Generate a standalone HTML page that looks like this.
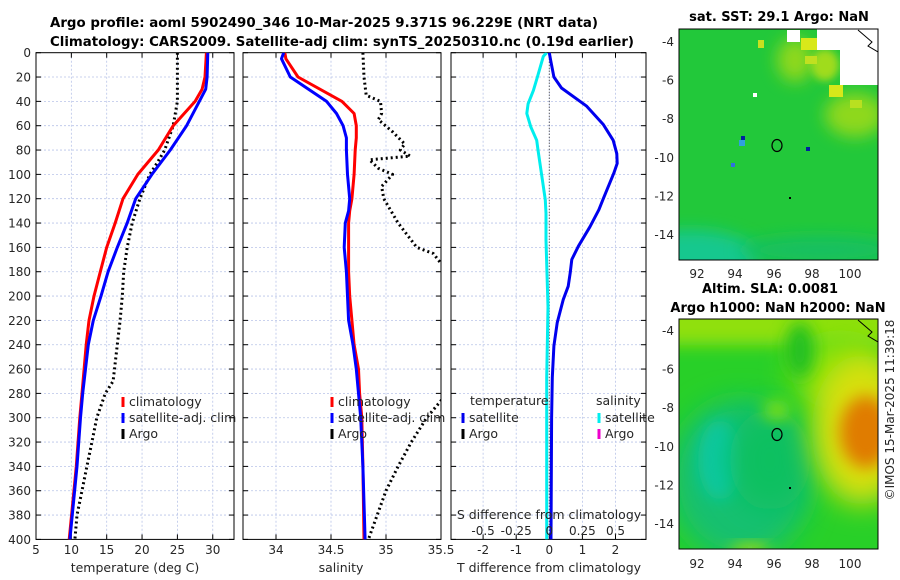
<!DOCTYPE html>
<html><head><meta charset="utf-8">
<style>
html,body{margin:0;padding:0;background:#fff;}
svg{display:block;font-family:"DejaVu Sans","Liberation Sans",sans-serif;}
</style></head>
<body>
<svg id="chart" width="900" height="580" viewBox="0 0 900 580" xmlns="http://www.w3.org/2000/svg">
<defs>
<filter id="blur4" x="-50%" y="-50%" width="200%" height="200%"><feGaussianBlur stdDeviation="4"/></filter>
<filter id="blur8" x="-50%" y="-50%" width="200%" height="200%"><feGaussianBlur stdDeviation="8"/></filter>
<filter id="blur14" x="-50%" y="-50%" width="200%" height="200%"><feGaussianBlur stdDeviation="14"/></filter>
<clipPath id="clipM1"><rect x="679" y="29" width="199" height="231"/></clipPath>
<clipPath id="clipM2"><rect x="679" y="319" width="199" height="230"/></clipPath>
<clipPath id="clipP1"><rect x="36" y="52.7" width="198" height="486.7"/></clipPath>
<clipPath id="clipP2"><rect x="243" y="52.7" width="198" height="486.7"/></clipPath>
<clipPath id="clipP3"><rect x="451" y="52.7" width="195" height="486.7"/></clipPath>
</defs>
<g font-weight="bold" font-size="13" fill="#000">
<text x="50" y="27" textLength="548" lengthAdjust="spacingAndGlyphs">Argo profile: aoml 5902490_346 10-Mar-2025 9.371S 96.229E (NRT data)</text>
<text x="50" y="46" textLength="584" lengthAdjust="spacingAndGlyphs">Climatology: CARS2009. Satellite-adj clim: synTS_20250310.nc (0.19d earlier)</text>
</g>

<!-- Map 1: SST -->
<g>
<text x="779" y="21" text-anchor="middle" font-weight="bold" font-size="13">sat. SST: 29.1 Argo: NaN</text>
<g clip-path="url(#clipM1)">
<rect x="679" y="29" width="199" height="231" fill="#22c83a"/>
<ellipse cx="690" cy="258" rx="70" ry="28" fill="#12c88e" filter="url(#blur8)"/>
<ellipse cx="820" cy="250" rx="80" ry="14" fill="#18c060" filter="url(#blur8)"/>
<ellipse cx="855" cy="115" rx="30" ry="22" fill="#8ed81a" filter="url(#blur8)"/>
<ellipse cx="795" cy="60" rx="18" ry="22" fill="#8ed81a" filter="url(#blur8)"/>
<ellipse cx="825" cy="65" rx="14" ry="16" fill="#a0dc1a" filter="url(#blur4)"/>
<rect x="801" y="38" width="16" height="12" fill="#d8e81a"/>
<rect x="829" y="85" width="14" height="12" fill="#d8e81a"/>
<rect x="805" y="56" width="12" height="8" fill="#c0e020"/>
<rect x="758" y="40" width="6" height="8" fill="#c8e020"/>
<rect x="850" y="100" width="12" height="8" fill="#b8e020"/>
<rect x="741" y="136" width="4" height="4" fill="#0020a0"/>
<rect x="739" y="140" width="6" height="6" fill="#30a0e0"/>
<rect x="806" y="147" width="4" height="4" fill="#0020a0"/>
<rect x="731" y="163" width="4" height="4" fill="#3070e0"/>
<polygon points="817,29 878,29 878,85 840,85 840,50 817,50" fill="#fff"/>
<rect x="787" y="30" width="13" height="12" fill="#fff"/>
<rect x="753" y="93" width="4" height="4" fill="#fff"/>
<path d="M858,30 L872,42 L868,46 L878,52" stroke="#000" stroke-width="1" fill="none"/>
<ellipse cx="777" cy="145.5" rx="5" ry="6" fill="none" stroke="#000" stroke-width="1.2"/>
<rect x="789" y="197" width="2" height="2" fill="#000"/>
</g>
<rect x="679" y="29" width="199" height="231" fill="none" stroke="#000" stroke-width="1"/>
<g font-size="12" fill="#262626" text-anchor="end">
<text x="674" y="46">-4</text><text x="674" y="84.5">-6</text><text x="674" y="123">-8</text><text x="674" y="162">-10</text><text x="674" y="200.5">-12</text><text x="674" y="239">-14</text>
</g>
<g font-size="12" fill="#262626" text-anchor="middle">
<text x="697" y="278">92</text><text x="735" y="278">94</text><text x="774" y="278">96</text><text x="812" y="278">98</text><text x="850" y="278">100</text>
</g>
</g>

<!-- Map 2: SLA -->
<g>
<text x="770" y="293" text-anchor="middle" font-weight="bold" font-size="13">Altim. SLA: 0.0081</text>
<text x="778" y="312" text-anchor="middle" font-weight="bold" font-size="13">Argo h1000: NaN h2000: NaN</text>
<g clip-path="url(#clipM2)">
<rect x="679" y="319" width="199" height="230" fill="#28d028"/>
<rect x="660" y="300" width="240" height="45" fill="#90e010" filter="url(#blur8)"/>
<ellipse cx="840" cy="370" rx="50" ry="40" fill="#80e010" filter="url(#blur14)"/>
<ellipse cx="740" cy="480" rx="70" ry="80" fill="#18c070" filter="url(#blur14)"/>
<ellipse cx="720" cy="460" rx="22" ry="40" fill="#08c8a0" filter="url(#blur8)"/>
<ellipse cx="770" cy="460" rx="40" ry="50" fill="#10c060" filter="url(#blur14)"/>
<ellipse cx="862" cy="430" rx="50" ry="75" fill="#d8e010" filter="url(#blur14)"/>
<ellipse cx="866" cy="432" rx="26" ry="36" fill="#e07c00" filter="url(#blur8)"/>
<ellipse cx="777" cy="410" rx="14" ry="10" fill="#80e010" filter="url(#blur8)"/>
<ellipse cx="800" cy="350" rx="14" ry="28" fill="#20c020" filter="url(#blur8)"/>
<ellipse cx="750" cy="550" rx="20" ry="6" fill="#b0e010" filter="url(#blur8)"/>
<path d="M858,320 L872,332 L868,336 L878,342" stroke="#000" stroke-width="1" fill="none"/>
<ellipse cx="777" cy="434.5" rx="5" ry="6" fill="none" stroke="#000" stroke-width="1.2"/>
<rect x="789" y="487" width="2" height="2" fill="#000"/>
</g>
<rect x="679" y="319" width="199" height="230" fill="none" stroke="#000" stroke-width="1"/>
<g font-size="12" fill="#262626" text-anchor="end">
<text x="674" y="335">-4</text><text x="674" y="373.5">-6</text><text x="674" y="412">-8</text><text x="674" y="451">-10</text><text x="674" y="489.5">-12</text><text x="674" y="528">-14</text>
</g>
<g font-size="12" fill="#262626" text-anchor="middle">
<text x="697" y="568">92</text><text x="735" y="568">94</text><text x="774" y="568">96</text><text x="812" y="568">98</text><text x="850" y="568">100</text>
</g>
</g>
<text transform="translate(894,410) rotate(-90)" text-anchor="middle" font-size="12" fill="#262626">©IMOS 15-Mar-2025 11:39:18</text>

<g id="plots"></g>
</svg>
<script>
// ---- data ----
const tempDepths = [0, 20, 30, 40, 60, 80, 100, 120, 140, 160, 180, 200, 220, 240, 260, 280, 300, 340, 400];
const tempClim   = [29.1, 28.9, 28.5, 27.5, 24.4, 22.3, 19.4, 17.3, 16.2, 15.0, 14.1, 13.2, 12.5, 12.1, 11.8, 11.5, 11.2, 10.7, 9.7];
const tempSat    = [29.3, 29.2, 29.0, 28.1, 26.3, 24.0, 21.4, 19.1, 17.9, 16.5, 15.2, 14.2, 13.1, 12.4, 12.0, 11.6, 11.3, 10.8, 9.8];
const argoTempDepths = [0, 40, 60, 80, 90, 100, 120, 140, 160, 180, 200, 220, 240, 260, 270, 280, 300, 320, 340, 360, 380, 400];
const argoTemp       = [25.0, 25.0, 24.4, 23.2, 22.2, 21.1, 19.7, 18.6, 17.9, 17.4, 17.2, 16.9, 16.5, 16.1, 15.9, 14.8, 13.6, 12.9, 12.2, 11.5, 10.8, 10.5];

const salDepths = [0, 5, 20, 40, 50, 60, 70, 80, 100, 120, 130, 140, 160, 180, 200, 220, 240, 260, 280, 300, 340, 400];
const salClim   = [34.08, 34.09, 34.20, 34.60, 34.71, 34.73, 34.73, 34.72, 34.71, 34.69, 34.67, 34.66, 34.66, 34.66, 34.67, 34.69, 34.71, 34.75, 34.76, 34.78, 34.79, 34.80];
const salSat    = [34.07, 34.05, 34.13, 34.46, 34.55, 34.61, 34.64, 34.64, 34.65, 34.67, 34.66, 34.63, 34.62, 34.64, 34.65, 34.66, 34.70, 34.73, 34.75, 34.77, 34.79, 34.81];
const argoSalDepths = [0, 20, 35, 40, 50, 55, 65, 75, 80, 85, 88, 95, 100, 110, 120, 140, 160, 165, 172, 200, 250, 286, 300, 320, 340, 360, 380, 400];
const argoSal       = [34.79, 34.80, 34.82, 34.95, 34.96, 34.93, 35.06, 35.17, 35.13, 35.22, 34.85, 34.93, 35.06, 34.96, 34.98, 35.11, 35.28, 35.43, 35.49, 35.8, 35.8, 35.5, 35.37, 35.23, 35.11, 35.0, 34.92, 34.84];

const diffDepths = [0, 6, 20, 29, 44, 59, 72, 83, 91, 99, 120, 129, 143, 159, 170, 181, 192, 203, 222, 241, 267, 300, 400];
const tDiffSat   = [0.0, 0.04, 0.14, 0.37, 1.13, 1.63, 1.93, 2.04, 2.05, 1.95, 1.63, 1.5, 1.23, 0.88, 0.68, 0.63, 0.57, 0.42, 0.24, 0.14, 0.09, 0.07, 0.05];
const sDiffDepths = [0, 3, 20, 31, 42, 50, 61, 72, 80, 99, 121, 132, 154, 209, 267, 400];
const sDiffSat    = [-0.02, -0.045, -0.09, -0.12, -0.16, -0.17, -0.14, -0.095, -0.085, -0.06, -0.03, -0.025, -0.025, -0.01, -0.02, -0.02];

const depthTicks = [0,20,40,60,80,100,120,140,160,180,200,220,240,260,280,300,320,340,360,380,400];
const tempTicks = [5,10,15,20,25,30];
const salTicks = [34,34.5,35,35.5];
const salTickLabels = ["34","34.5","35","35.5"];
const tDiffTicks = [-2,-1,0,1,2];
const sDiffTicks = [-0.5,-0.25,0,0.25,0.5];
const sDiffTickLabels = ["-0.5","-0.25","0","0.25","0.5"];

// ---- scales ----
const Y0 = 52.7, Y1 = 539.4;
function yD(d){ return Y0 + d*(Y1-Y0)/400; }
function xT(t){ return 36 + (t-5)*7.07; }
function xS(s){ return 243 + (s-33.7)*110; }
function xTD(v){ return 549.3 + v*33.1; }
function xSD(v){ return 549.3 + v*132.4; }

const NS = "http://www.w3.org/2000/svg";
const root = document.getElementById('plots');
function mk(tag, attrs, parent){
  const e = document.createElementNS(NS, tag);
  for (const k in attrs) e.setAttribute(k, attrs[k]);
  (parent||root).appendChild(e);
  return e;
}
function pathFrom(xs, ds, xf){
  return xs.map((v,i)=>(i?'L':'M')+xf(v).toFixed(1)+','+yD(ds[i]).toFixed(1)).join(' ');
}

function panel(name, x0, x1, xf, xticks, xlabels, clip){
  const g = mk('g', {});
  
  
  depthTicks.forEach(d=>{
    if(d===0||d===400) return;
    mk('line',{x1:x0,x2:x1,y1:yD(d),y2:yD(d),stroke:'#b8c4e8','stroke-width':0.8,'stroke-dasharray':'2,2'},g);
  });
  xticks.forEach(t=>{
    const x = xf(t);
    if (x<=x0+1 || x>=x1-1) return;
    mk('line',{x1:x,x2:x,y1:Y0,y2:Y1,stroke:'#b8c4e8','stroke-width':0.8,'stroke-dasharray':'2,2'},g);
  });
  depthTicks.forEach(d=>{
    mk('line',{x1:x0,x2:x0+5,y1:yD(d),y2:yD(d),stroke:'#000','stroke-width':1},g);
    mk('line',{x1:x1-5,x2:x1,y1:yD(d),y2:yD(d),stroke:'#000','stroke-width':1},g);
  });
  xticks.forEach((t,i)=>{
    const x = xf(t);
    mk('line',{x1:x,x2:x,y1:Y1,y2:Y1-5,stroke:'#000','stroke-width':1},g);
    mk('line',{x1:x,x2:x,y1:Y0,y2:Y0+5,stroke:'#000','stroke-width':1},g);
    const tx = mk('text',{x:x,y:554,'text-anchor':'middle','font-size':12,fill:'#262626'},g);
    tx.textContent = xlabels[i];
  });
  mk('rect',{x:x0,y:Y0,width:x1-x0,height:Y1-Y0,fill:'none',stroke:'#000','stroke-width':1},g);
  const cg = mk('g',{'clip-path':'url(#'+clip+')'},g);
  return {g, cg};
}
function line(parent, name, xs, ds, xf, color, dotted){
  const p = mk('path',{d:pathFrom(xs,ds,xf),fill:'none',stroke:color,'stroke-width':3,'stroke-linejoin':'round'},parent);
  if (dotted){ p.setAttribute('stroke-dasharray','2,3'); }
  
  
}
function legendItem(parent, name, x, y, color, label){
  const r = mk('rect',{x:x-1.5,y:y-9,width:3,height:10,fill:color},parent);
  
  
  const t = mk('text',{x:x+6,y:y,'font-size':12.5,fill:'#262626'},parent);
  t.textContent = label;
  
  
}

// Panel 1 temperature
const p1 = panel('temperature-panel', 36, 234, xT, tempTicks, tempTicks.map(String), 'clipP1');
line(p1.cg, 'argo-temperature-line', argoTemp, argoTempDepths, xT, '#000', true);
line(p1.cg, 'climatology-temperature-line', tempClim, tempDepths, xT, '#ff0000', false);
line(p1.cg, 'satellite-temperature-line', tempSat, tempDepths, xT, '#0000ff', false);
depthTicks.forEach(d=>{
  const t = mk('text',{x:31,y:yD(d)+4.5,'text-anchor':'end','font-size':12,fill:'#262626'});
  t.textContent = d;
  
  
});
const xl1 = mk('text',{x:135,y:572,'text-anchor':'middle','font-size':12.5,fill:'#262626'});
xl1.textContent = 'temperature (deg C)';


const lg1 = mk('g',{});


legendItem(lg1, 'legend-climatology', 123, 406, '#ff0000', 'climatology');
legendItem(lg1, 'legend-satellite-adj', 123, 422, '#0000ff', 'satellite-adj. clim');
legendItem(lg1, 'legend-argo', 123, 438, '#000', 'Argo');

// Panel 2 salinity
const p2 = panel('salinity-panel', 243, 441, xS, salTicks, salTickLabels, 'clipP2');
line(p2.cg, 'argo-salinity-line', argoSal, argoSalDepths, xS, '#000', true);
line(p2.cg, 'climatology-salinity-line', salClim, salDepths, xS, '#ff0000', false);
line(p2.cg, 'satellite-salinity-line', salSat, salDepths, xS, '#0000ff', false);
const xl2 = mk('text',{x:341,y:572,'text-anchor':'middle','font-size':12.5,fill:'#262626'});
xl2.textContent = 'salinity';


const lg2 = mk('g',{});


legendItem(lg2, 'legend-climatology', 332, 406, '#ff0000', 'climatology');
legendItem(lg2, 'legend-satellite-adj', 332, 422, '#0000ff', 'satellite-adj. clim');
legendItem(lg2, 'legend-argo', 332, 438, '#000', 'Argo');

// Panel 3 differences
const p3 = panel('difference-panel', 451, 646, xTD, tDiffTicks, tDiffTicks.map(String), 'clipP3');
mk('line',{x1:xTD(0),x2:xTD(0),y1:Y0,y2:Y1,stroke:'#333','stroke-width':1,'stroke-dasharray':'1,2'},p3.cg);
line(p3.cg, 'temperature-difference-line', tDiffSat, diffDepths, xTD, '#0000ee', false);
line(p3.cg, 'salinity-difference-line', sDiffSat, sDiffDepths, xSD, '#00eeee', false);
const xl3 = mk('text',{x:549,y:572,'text-anchor':'middle','font-size':12.5,fill:'#262626'});
xl3.textContent = 'T difference from climatology';


const sl = mk('text',{x:549,y:519,'text-anchor':'middle','font-size':12.5,fill:'#262626'});
sl.textContent = 'S difference from climatology';


sDiffTicks.forEach((v,i)=>{
  const t = mk('text',{x:xSD(v),y:535,'text-anchor':'middle','font-size':12,fill:'#262626'});
  t.textContent = sDiffTickLabels[i];
  
  
});
const lg3 = mk('g',{});


const lt1 = mk('text',{x:470,y:405,'font-size':12.5,fill:'#262626'},lg3);
lt1.textContent = 'temperature';


const lt2 = mk('text',{x:596,y:405,'font-size':12.5,fill:'#262626'},lg3);
lt2.textContent = 'salinity';


legendItem(lg3, 'legend-temp-satellite', 463, 422, '#0000ee', 'satellite');
legendItem(lg3, 'legend-temp-argo', 463, 438, '#000', 'Argo');
legendItem(lg3, 'legend-sal-satellite', 599, 422, '#00eeee', 'satellite');
legendItem(lg3, 'legend-sal-argo', 599, 438, '#ee00cc', 'Argo');
</script>
</body></html>
